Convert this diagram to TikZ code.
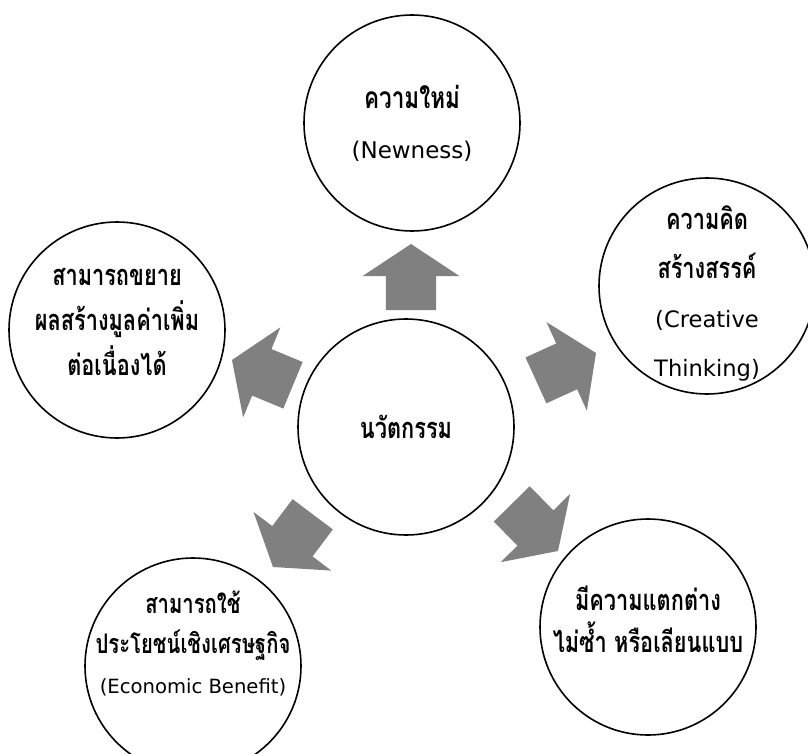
\documentclass[tikz,border=0pt]{standalone}
\usepackage{fontspec}
\newfontfamily\thaifont[Script=Thai, FakeStretch=0.75]{Loma}
\newfontfamily\latinfont{DejaVu Sans}
\newcommand\en[2][23]{{\latinfont\mdseries\fontsize{#1}{#1}\selectfont #2}}
\usepackage{tikz}
\usetikzlibrary{shapes.arrows}

\begin{document}
\begin{tikzpicture}
    [x=1pt, y=-1pt, outer sep = 0pt,
     idea/.style={circle, draw=black, line width=1.6pt, minimum size=216pt,
       inner sep=0pt},
     txt/.style 2 args={align=center, inner sep=0pt,
       font=\thaifont\bfseries\fontsize{#1}{#2}\selectfont},
     push/.style={single arrow, fill=gray, draw=none, anchor=tip,
       minimum height=66pt, inner xsep=0pt, inner ysep=25pt,
       single arrow head extend=23.5pt, single arrow tip angle=113}]

    \useasboundingbox (0,0) rectangle (808,754);

    % centre and the five ideas round it
    \node [idea, label={[txt={29}{46}]center:นวัตกรรม}] (core) at (406,427) {};
    \node [idea, label={[txt={30}{50}]center:ความใหม่\\\en{(Newness)}}] (newness) at (412,123) {};
    \node [idea, label={[txt={29}{49}, yshift=-7pt]center:ความคิด\\สร้างสรรค์\\\en[22.6]{(Creative}\\\en[22.6]{Thinking)}}] (creative) at (707,286) {};
    \node [idea, label={[txt={29}{45}, yshift=8pt]center:สามารถขยาย\\ผลสร้างมูลค่าเพิ่ม\\ต่อเนื่องได้}] (extend) at (117,330) {};
    \node [idea, label={[txt={27}{40}, yshift=23pt]center:สามารถใช้\\ประโยชน์เชิงเศรษฐกิจ\\\en[19.6]{(Economic Benefit)}}] (benefit) at (193,666) {};
    \node [idea, label={[txt={29}{42}, yshift=8pt]center:มีความแตกต่าง\\ไม่ซ้ำ หรือเลียนแบบ}] (unique) at (648,627) {};

    % block arrows pointing out
    \node [push, rotate=90] (to-newness) at (411,244) {};
    \node [push, rotate=24.5] (to-creative) at (596,353) {};
    \node [push, rotate=157.5] (to-extend) at (232,360) {};
    \node [push, rotate=233] (to-benefit) at (273,567) {};
    \node [push, rotate=314.5] (to-unique) at (558,551) {};
  \end{tikzpicture}
\end{document}
